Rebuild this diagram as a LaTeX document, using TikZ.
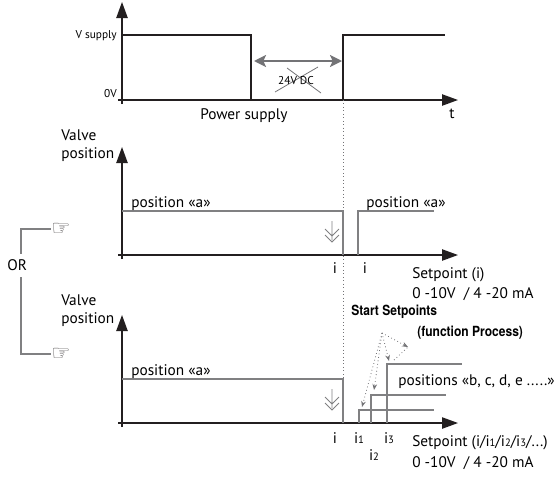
\documentclass[tikz,border=0pt]{standalone}
\usepackage{fontspec}
\setmainfont{PT Sans}
\newfontfamily\handfont{DejaVu Sans}
\newfontfamily\headfont[FakeStretch=0.86]{TeX Gyre Heros}
\usetikzlibrary{arrows.meta}
\definecolor{ink}{RGB}{35,31,32}
\definecolor{sig}{RGB}{128,128,130}
\definecolor{hint}{RGB}{115,115,118}
\newcommand{\sdig}[1]{{\fontsize{8}{8}\selectfont #1}}

\begin{document}
\begin{tikzpicture}[x=0.75pt,y=0.75pt,yscale=-1,xscale=1,
	axis/.style={draw=ink, line width=1pt, -{Triangle[length=12pt,width=8.5pt]}},
	level/.style={draw=sig, line width=1pt},
	chev/.style={draw=sig, line width=0.6pt},
	hintarrow/.style={draw=hint, dotted, line width=0.6pt, -{Stealth[length=4.5pt,width=3.5pt]}},
	txt/.style={inner sep=0pt, font=\fontsize{11.5}{13}\selectfont},
	small/.style={inner sep=0pt, font=\fontsize{8.5}{9}\selectfont},
	head/.style={inner sep=0pt, font=\headfont\bfseries\fontsize{10.5}{12}\selectfont},
	hand/.style={inner sep=0pt, text=ink!75, font=\handfont\fontsize{16}{16}\selectfont}]
	\useasboundingbox (0,0) rectangle (555,476);
	
	%Power supply plot
	\draw [axis] (118,100) -- (458,100) ;
	\draw [axis] (122,104) -- (122,2) ;
	\draw [ink, line width=1pt] (122,35) -- (251,35) -- (251,100) -- (343,100) -- (343,35) -- (445,35) ;
	\draw [hint, line width=1.6pt, {Stealth[length=9pt,width=9pt,inset=2pt]}-{Stealth[length=9pt,width=9pt,inset=2pt]}] (254,61) -- (342,61) ;
	\draw [hint, line width=0.6pt] (287,68) -- (321,93) (275,92) -- (318,67) ;
	% Text Node
	\node [small, anchor=base east] (vsup) at (117,38) {V supply};
	\node [small, anchor=base east] (zerov) at (117,97) {0V};
	\node [small, anchor=base] (dc) at (296,84) {24V DC};
	\node [txt, anchor=base west] (pwr) at (200,119) {Power supply};
	\node [txt, anchor=base west] (tlab) at (449,118) {t};
	
	%Link between plots
	\draw [hint, dotted, line width=0.6pt] (343,100) -- (343,379) ;
	
	%Valve position, one setpoint
	\draw [axis] (118,255) -- (458,255) ;
	\draw [axis] (122,259) -- (122,147) ;
	\draw [level] (122,211) -- (343,211) -- (343,255) ;
	\draw [level] (358,255) -- (358,211) -- (434,211) ;
	\draw [chev] (332,221) -- (332,240) (325,229) -- (332,236) -- (339,229) (325,235) -- (332,242) -- (339,235) ;
	% Text Node
	\node [txt, anchor=base west] (valveA) at (61,140) {Valve};
	\node [txt, anchor=base west] (posA) at (61,158) {position};
	\node [txt, anchor=base west] (aA) at (131,207) {position «a»};
	\node [txt, anchor=base west] (aB) at (366,207) {position «a»};
	\node [txt, anchor=base] (iA) at (335,273) {i};
	\node [txt, anchor=base] (iB) at (365,273) {i};
	\node [txt, anchor=base west] (spA) at (412,278) {Setpoint (i)};
	\node [txt, anchor=base west] (rngA) at (412,298) {0 -10V \ / 4 -20 mA};
	
	%OR bracket
	\node [txt, anchor=base west] (orlab) at (7,270) {OR};
	\node [hand, anchor=west] (handA) at (51,229) {☞};
	\node [hand, anchor=west] (handB) at (51,354) {☞};
	\draw [sig, line width=0.8pt] (orlab.north -| 21,0) ++(0,-5) |- (handA.west) ;
	\draw [sig, line width=0.8pt] (orlab.south -| 21,0) ++(0,7) |- (handB.west) ;
	
	%Valve position, several setpoints
	\draw [axis] (118,423) -- (458,423) ;
	\draw [axis] (122,427) -- (122,315) ;
	\draw [level] (122,379) -- (343,379) -- (343,423) ;
	\draw [chev] (332,389) -- (332,408) (325,397) -- (332,404) -- (339,397) (325,403) -- (332,410) -- (339,403) ;
	\draw [level] (359,423) -- (359,410) -- (434,410) ;
	\draw [level] (371,423) -- (371,395) -- (446,395) ;
	\draw [level] (387,423) -- (387,364) -- (462,364) ;
	\coordinate (apex) at (382,333);
	\coordinate (tipA) at (362,407);
	\coordinate (tipB) at (374,390);
	\coordinate (tipC) at (389,361);
	\coordinate (tipD) at (408,347);
	\coordinate (sideD) at (394,360);
	\draw [hintarrow] (apex) -- (tipA) ;
	\draw [hintarrow] (apex) -- (tipB) ;
	\draw [hintarrow] (apex) -- (tipC) ;
	\draw [hintarrow] (apex) -- (tipD) ;
	\draw [hint, dotted, line width=0.6pt] (sideD) -- (tipD) ;
	% Text Node
	\node [txt, anchor=base west] (valveB) at (61,305) {Valve};
	\node [txt, anchor=base west] (posB) at (61,323) {position};
	\node [txt, anchor=base west] (aC) at (131,375) {position «a»};
	\node [head, anchor=base west] (start) at (351,315) {Start Setpoints};
	\node [head, anchor=base west] (func) at (417,336) {(function Process)};
	\node [txt, anchor=base west] (posn) at (398,385) {positions «b, c, d, e .....»};
	\node [txt, anchor=base] (iC) at (335,443) {i};
	\node [txt, anchor=base] (iD) at (359,443) {i\sdig{1}};
	\node [txt, anchor=base] (iE) at (374,460) {i\sdig{2}};
	\node [txt, anchor=base] (iF) at (389,443) {i\sdig{3}};
	\node [txt, anchor=base west] (spB) at (412,446) {Setpoint (i/i\sdig{1}/i\sdig{2}/i\sdig{3}/...)};
	\node [txt, anchor=base west] (rngB) at (412,467) {0 -10V \ / 4 -20 mA};
\end{tikzpicture}
\end{document}
